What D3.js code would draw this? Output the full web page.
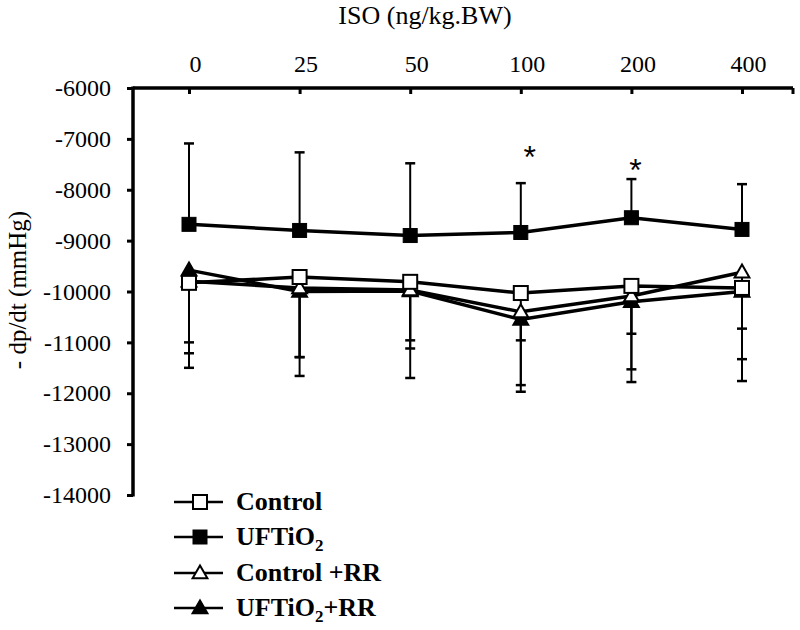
<!DOCTYPE html>
<html><head><meta charset="utf-8">
<script src="https://cdn.jsdelivr.net/npm/d3@7"></script>
<style>body{margin:0;background:#fff}svg{display:block}</style>
</head><body>
<script>
const categories = ["0","25","50","100","200","400"];
const yTicks = [-6000,-7000,-8000,-9000,-10000,-11000,-12000,-13000,-14000];
const controlMean = [-9830,-9715,-9810,-10030,-9890,-9930];
const controlSD   = [1670,1945,1890,930,940,800];
const uftMean     = [-8680,-8800,-8900,-8840,-8550,-8780];
const uftSD       = [1590,1535,1420,970,760,890];
const ctrlRRMean  = [-9800,-9930,-9970,-10400,-10090,-9620];
const ctrlRRSD    = [1414,1360,1150,1440,1440,1710];
const uftRRMean   = [-9580,-10000,-9990,-10550,-10200,-10000];
const uftRRSD     = [1420,1290,970,1420,1580,1760];
const starCats    = ["100","200"];
const starValues  = [-7100,-7350];

const W=800,H=630;
const svg=d3.select("body").append("svg").attr("width",W).attr("height",H);
const font="'Liberation Serif','Times New Roman',serif";
const x=d3.scalePoint().domain(categories).range([189,742]);
const y=d3.scaleLinear().domain([-6000,-14000]).range([88,495]);
const axL=133, axR=793;
const fmt=d=>String(d);

const series=[
 {name:"Control",mean:controlMean,sd:controlSD,dir:-1,shape:"square",fill:"#fff"},
 {name:"UFTiO2",mean:uftMean,sd:uftSD,dir:1,shape:"square",fill:"#000"},
 {name:"Control +RR",mean:ctrlRRMean,sd:ctrlRRSD,dir:-1,shape:"triangle",fill:"#fff"},
 {name:"UFTiO2+RR",mean:uftRRMean,sd:uftRRSD,dir:-1,shape:"triangle",fill:"#000"}
];

series.forEach(s=>{
  const g=svg.append("g");
  categories.forEach((c,i)=>{
    const y0=y(s.mean[i]), y1=y(s.mean[i]+s.dir*s.sd[i]);
    g.append("line").attr("x1",x(c)).attr("x2",x(c)).attr("y1",y0).attr("y2",y1).attr("stroke","#000").attr("stroke-width",2);
    g.append("line").attr("x1",x(c)-5).attr("x2",x(c)+5).attr("y1",y1).attr("y2",y1).attr("stroke","#000").attr("stroke-width",2.5);
  });
});

const yAxis=d3.axisLeft(y).tickValues(yTicks).tickSize(6).tickFormat(fmt);
const gy=svg.append("g").attr("transform",`translate(${axL},0)`).call(yAxis);
gy.select(".domain").remove();
gy.append("line").attr("x1",0).attr("x2",0).attr("y1",y(-6000)-1.5).attr("y2",y(-14000)+1.5).attr("stroke","#000").attr("stroke-width",3.5);
gy.selectAll(".tick line").attr("stroke","#000").attr("stroke-width",3);
gy.selectAll(".tick text").attr("font-family",font).attr("font-size",24).attr("fill","#000").attr("x",-22);

const xAxis=d3.axisTop(x).tickSize(-6);
const gx=svg.append("g").attr("transform",`translate(0,${y(-6000)})`).call(xAxis);
gx.select(".domain").remove();
gx.append("line").attr("x1",axL).attr("x2",axR).attr("y1",0).attr("y2",0).attr("stroke","#000").attr("stroke-width",3.5);
gx.append("line").attr("x1",axR).attr("x2",axR).attr("y1",0).attr("y2",6).attr("stroke","#000").attr("stroke-width",3);
gx.selectAll(".tick line").attr("stroke","#000").attr("stroke-width",3);
gx.selectAll(".tick text").attr("font-family",font).attr("font-size",24).attr("fill","#000").attr("y",-16).attr("dx",6);

svg.append("text").attr("x",425).attr("y",24).attr("text-anchor","middle").attr("font-family",font).attr("font-size",26).text("ISO (ng/kg.BW)");
svg.append("text").attr("transform","translate(26,290) rotate(-90)").attr("text-anchor","middle").attr("font-family",font).attr("font-size",25).text("- dp/dt (mmHg)");

const line=d3.line().x((d,i)=>x(categories[i])).y(d=>y(d));
series.forEach(s=>{
  svg.append("path").attr("d",line(s.mean)).attr("fill","none").attr("stroke","#000").attr("stroke-width",3.5);
});

function marker(g,shape,fill,cx,cy){
  if(shape==="square"){
    g.append("rect").attr("x",cx-7).attr("y",cy-7).attr("width",14).attr("height",14).attr("fill",fill).attr("stroke","#000").attr("stroke-width",fill==="#000"?1:2);
  } else {
    g.append("path").attr("d",d3.symbol().type(d3.symbolTriangle).size(95)()).attr("transform",`translate(${cx},${cy+1})`).attr("fill",fill).attr("stroke","#000").attr("stroke-width",2);
  }
}
[3,2,1,0].forEach(k=>{
  const s=series[k]; const g=svg.append("g");
  s.mean.forEach((v,i)=>marker(g,s.shape,s.fill,x(categories[i]),y(v)));
});

const starDx=[9,4];
starCats.forEach((c,i)=>{
  svg.append("text").attr("x",x(c)+starDx[i]).attr("y",y(starValues[i])+24).attr("text-anchor","middle").attr("font-family","'Liberation Sans',Arial,sans-serif").attr("font-size",32).text("*");
});

const legY=[502,537,573,608];
const leg=svg.append("g");
series.forEach((s,i)=>{
  leg.append("line").attr("x1",174).attr("x2",223).attr("y1",legY[i]).attr("y2",legY[i]).attr("stroke","#000").attr("stroke-width",2.5);
  marker(leg,s.shape,s.fill,200,legY[i]);
  const t=leg.append("text").attr("x",236).attr("y",legY[i]+8).attr("font-family",font).attr("font-size",26).attr("font-weight","bold");
  if(s.name.startsWith("UFTiO2")){
    t.append("tspan").text("UFTiO");
    t.append("tspan").attr("font-size",17).attr("dy",6).text("2");
    if(s.name.length>6) t.append("tspan").attr("dy",-6).text(s.name.slice(6));
  } else t.text(s.name);
});
</script>
</body></html>
